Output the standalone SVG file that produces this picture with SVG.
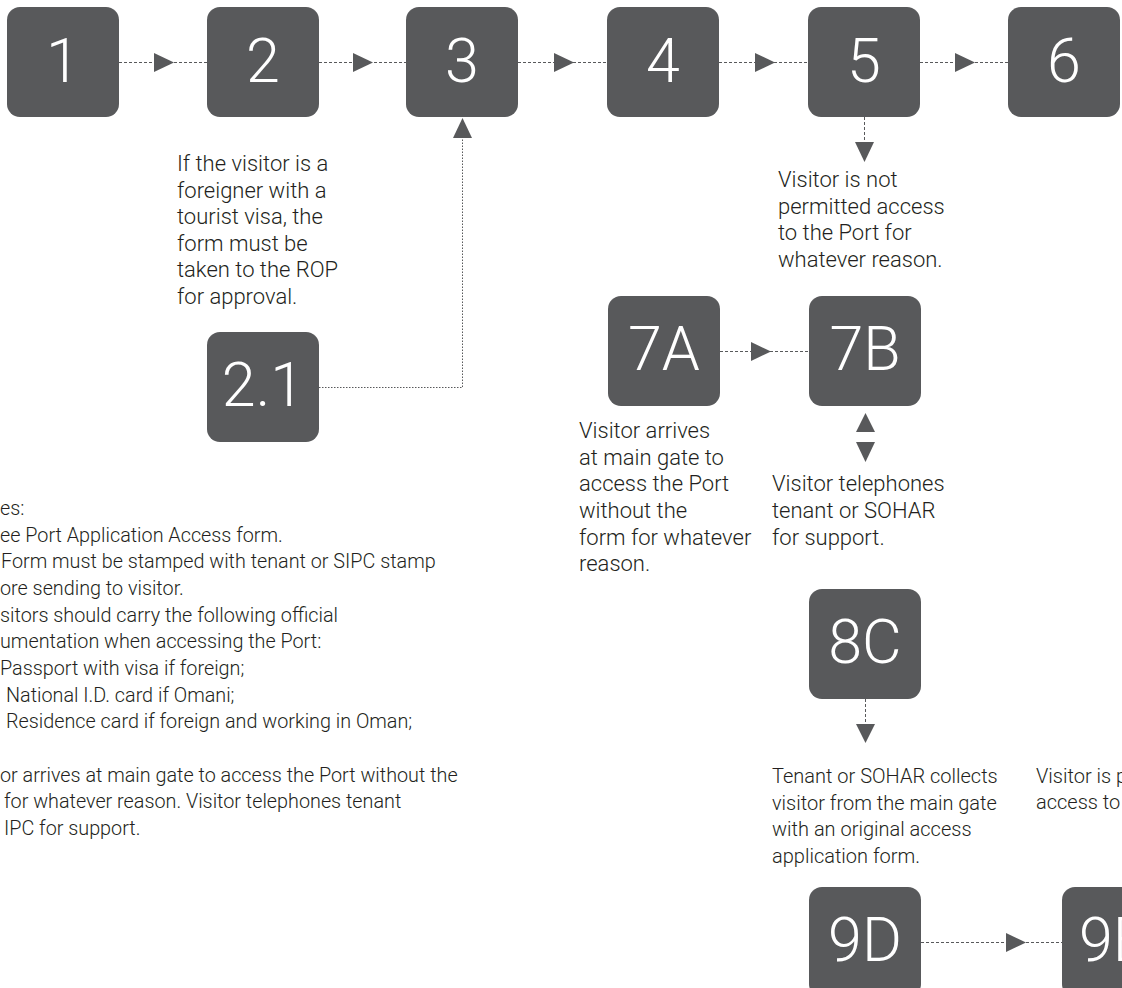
<svg xmlns="http://www.w3.org/2000/svg" width="1122" height="988" viewBox="0 0 1122 988">
<style>
.box{fill:#58595b}
.num{font-family:Roboto,"Liberation Sans",sans-serif;font-weight:300;font-size:61px;fill:#ffffff;text-anchor:middle}
.lbl{font-family:Roboto,"Liberation Sans",sans-serif;font-weight:300;font-size:22px;fill:#231f20}
.sm{font-size:20px}
.note{font-size:19.8px}
.dash{stroke:#58595b;stroke-width:1;stroke-dasharray:3 2;fill:none}
.dot{stroke:#58595b;stroke-width:1;stroke-dasharray:1.5 1.5;fill:none}
.head{fill:#58595b}
</style>
<rect x="0" y="0" width="1122" height="988" fill="#ffffff"/>
<g id="connectors">
<line class="dash" x1="119" y1="62.5" x2="207" y2="62.5"/>
<polygon class="head" points="154,53 154,72 174,62.5"/>
<line class="dash" x1="319" y1="62.5" x2="406" y2="62.5"/>
<polygon class="head" points="353,53 353,72 373,62.5"/>
<line class="dash" x1="518" y1="62.5" x2="607" y2="62.5"/>
<polygon class="head" points="554,53 554,72 574,62.5"/>
<line class="dash" x1="719" y1="62.5" x2="808" y2="62.5"/>
<polygon class="head" points="755,53 755,72 775,62.5"/>
<line class="dash" x1="920" y1="62.5" x2="1008" y2="62.5"/>
<polygon class="head" points="955,53 955,72 975,62.5"/>
<line class="dash" x1="864.5" y1="117" x2="864.5" y2="142"/>
<polygon class="head" points="855,142 874,142 864.5,162"/>
<path class="dot" d="M319,387.5 H462.5 V138"/>
<polygon class="head" points="453,138 472,138 462.5,118"/>
<line class="dash" x1="720" y1="351.5" x2="809" y2="351.5"/>
<polygon class="head" points="751,342 751,361 771,351.5"/>
<polygon class="head" points="856,432 875,432 865.5,413"/>
<polygon class="head" points="856,442 875,442 865.5,462"/>
<line class="dash" x1="865.5" y1="699" x2="865.5" y2="724"/>
<polygon class="head" points="856,724 875,724 865.5,743"/>
<line class="dash" x1="921" y1="942.5" x2="1062" y2="942.5"/>
<polygon class="head" points="1006,933 1006,952 1026,942.5"/>
</g>
<g id="n1"><rect class="box" x="7" y="7" width="112" height="110" rx="13"/><text class="num" x="63" y="82">1</text></g>
<g id="n2"><rect class="box" x="207" y="7" width="112" height="110" rx="13"/><text class="num" x="263" y="82">2</text></g>
<g id="n3"><rect class="box" x="406" y="7" width="112" height="110" rx="13"/><text class="num" x="462" y="82">3</text></g>
<g id="n4"><rect class="box" x="607" y="7" width="112" height="110" rx="13"/><text class="num" x="663" y="82">4</text></g>
<g id="n5"><rect class="box" x="808" y="7" width="112" height="110" rx="13"/><text class="num" x="864" y="82">5</text></g>
<g id="n6"><rect class="box" x="1008" y="7" width="112" height="110" rx="13"/><text class="num" x="1064" y="82">6</text></g>
<g id="n2_1"><rect class="box" x="207" y="332" width="112" height="110" rx="13"/><text class="num" x="263" y="406">2.1</text></g>
<g id="n7a"><rect class="box" x="608" y="296" width="112" height="110" rx="13"/><text class="num" x="664" y="370">7A</text></g>
<g id="n7b"><rect class="box" x="809" y="296" width="112" height="110" rx="13"/><text class="num" x="865" y="370">7B</text></g>
<g id="n8c"><rect class="box" x="809" y="589" width="112" height="110" rx="13"/><text class="num" x="865" y="663">8C</text></g>
<g id="n9d"><rect class="box" x="809" y="887" width="112" height="110" rx="13"/><text class="num" x="865" y="961">9D</text></g>
<g id="n9e"><rect class="box" x="1062" y="887" width="112" height="110" rx="13"/><text class="num" x="1079" y="961" style="text-anchor:start">9E</text></g>
<g id="label-2">
<text class="lbl" x="177" y="171">If the visitor is a</text>
<text class="lbl" x="177" y="198">foreigner with a</text>
<text class="lbl" x="177" y="224">tourist visa, the</text>
<text class="lbl" x="177" y="251">form must be</text>
<text class="lbl" x="177" y="277">taken to the ROP</text>
<text class="lbl" x="177" y="304">for approval.</text>
</g>
<g id="label-5">
<text class="lbl" x="778" y="187">Visitor is not</text>
<text class="lbl" x="778" y="214">permitted access</text>
<text class="lbl" x="778" y="240">to the Port for</text>
<text class="lbl" x="778" y="267">whatever reason.</text>
</g>
<g id="label-7a">
<text class="lbl" x="579" y="438">Visitor arrives</text>
<text class="lbl" x="579" y="465">at main gate to</text>
<text class="lbl" x="579" y="491">access the Port</text>
<text class="lbl" x="579" y="518">without the</text>
<text class="lbl" x="579" y="545">form for whatever</text>
<text class="lbl" x="579" y="571">reason.</text>
</g>
<g id="label-7b">
<text class="lbl" x="772" y="491">Visitor telephones</text>
<text class="lbl" x="772" y="518">tenant or SOHAR</text>
<text class="lbl" x="772" y="545">for support.</text>
</g>
<g id="label-8c">
<text class="lbl sm" x="772" y="783">Tenant or SOHAR collects</text>
<text class="lbl sm" x="772" y="810">visitor from the main gate</text>
<text class="lbl sm" x="772" y="836">with an original access</text>
<text class="lbl sm" x="772" y="863">application form.</text>
</g>
<g id="label-9e">
<text class="lbl sm" x="1036" y="783">Visitor is p</text>
<text class="lbl sm" x="1036" y="809">access to</text>
</g>
<g id="notes">
<text class="lbl note" x="0" y="515">es:</text>
<text class="lbl note" x="0" y="542">ee Port Application Access form.</text>
<text class="lbl note" x="1" y="568">Form must be stamped with tenant or SIPC stamp</text>
<text class="lbl note" x="0" y="595">ore sending to visitor.</text>
<text class="lbl note" x="0" y="622">sitors should carry the following official</text>
<text class="lbl note" x="0" y="648">umentation when accessing the Port:</text>
<text class="lbl note" x="0" y="675">Passport with visa if foreign;</text>
<text class="lbl note" x="6" y="702">National I.D. card if Omani;</text>
<text class="lbl note" x="6" y="728">Residence card if foreign and working in Oman;</text>
<text class="lbl note" x="0" y="782">or arrives at main gate to access the Port without the</text>
<text class="lbl note" x="4" y="808">for whatever reason. Visitor telephones tenant</text>
<text class="lbl note" x="4" y="835">IPC for support.</text>
</g>
</svg>
